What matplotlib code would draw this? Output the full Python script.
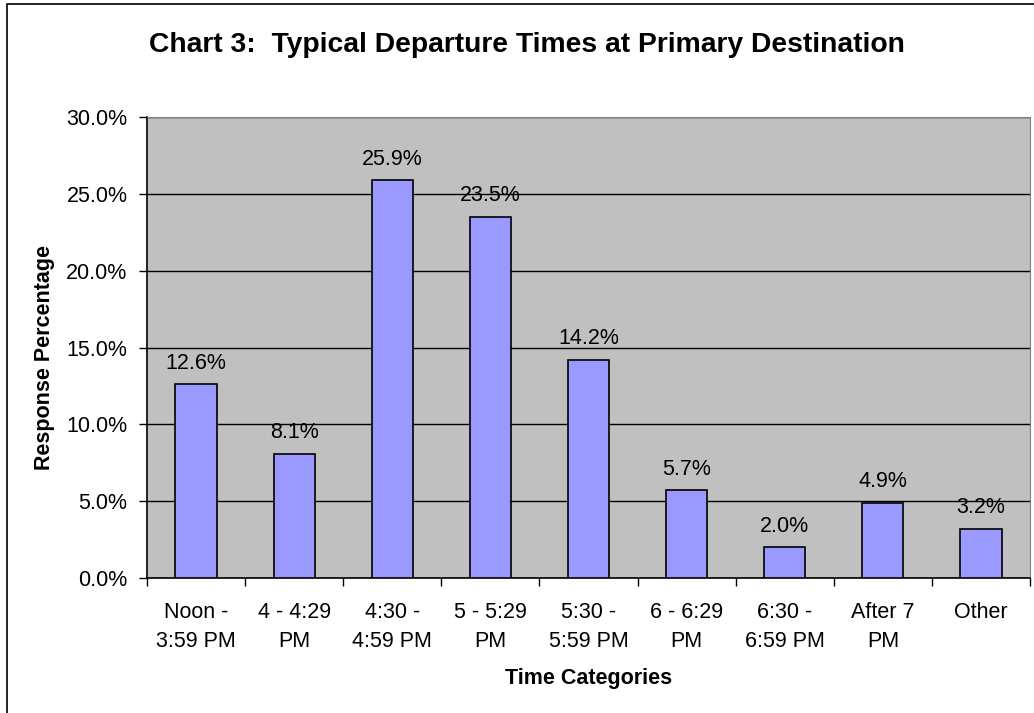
import matplotlib.pyplot as plt
from matplotlib.patches import Rectangle
from matplotlib.ticker import FuncFormatter, MultipleLocator

categories = ["Noon -\n3:59 PM", "4 - 4:29\nPM", "4:30 -\n4:59 PM", "5 - 5:29\nPM",
              "5:30 -\n5:59 PM", "6 - 6:29\nPM", "6:30 -\n6:59 PM", "After 7\nPM", "Other"]
values = [12.6, 8.1, 25.9, 23.5, 14.2, 5.7, 2.0, 4.9, 3.2]


def main():
    plt.rcParams['font.family'] = ['Liberation Sans', 'DejaVu Sans']
    fig = plt.figure(figsize=(10.34, 7.13), dpi=100)
    ax = fig.add_axes([147 / 1034, 1 - 578 / 713, 883 / 1034, 461 / 713])

    # outer chart frame (cut off at right and bottom as in the source)
    fig.patches.append(Rectangle((7 / 1034, -0.1), 1.2, 1.1 - 4 / 713, transform=fig.transFigure,
                                 fill=False, edgecolor='black', linewidth=1.2))

    ax.set_facecolor('#C0C0C0')
    xs = range(len(values))
    ax.bar(xs, values, width=0.42, color='#9999FF', edgecolor='black', linewidth=1.2, zorder=3)
    for i, v in enumerate(values):
        ax.annotate(f"{v:.1f}%", (i, v), textcoords="offset points", xytext=(0, 7.5),
                    ha='center', va='bottom', fontsize=15.5, zorder=4)

    ax.set_xlim(-0.5, len(values) - 0.5)
    ax.set_ylim(0, 30)
    ax.yaxis.set_major_locator(MultipleLocator(5))
    ax.yaxis.set_major_formatter(FuncFormatter(lambda v, p: f"{v:.1f}%"))
    ax.grid(axis='y', color='black', linewidth=1, zorder=1)
    ax.set_axisbelow(True)

    ax.set_xticks([i + 0.5 for i in range(-1, len(values))])
    ax.set_xticklabels([])
    ax.set_xticks(list(xs), minor=True)
    ax.set_xticklabels(categories, minor=True, fontsize=15.5, linespacing=1.5)
    ax.tick_params(axis='x', which='minor', length=0, pad=17)
    ax.tick_params(axis='x', which='major', length=6, width=1, direction='out')
    ax.tick_params(axis='y', length=6, width=1, direction='out', labelsize=15.5, pad=8)

    for s in ['top', 'right']:
        ax.spines[s].set_color('#808080')
    for s in ['left', 'bottom']:
        ax.spines[s].set_color('black')
        ax.spines[s].set_linewidth(1.2)

    ax.set_xlabel('Time Categories', fontsize=15.5, fontweight='bold', labelpad=12)
    ax.set_ylabel('Response Percentage', fontsize=15.5, fontweight='bold')
    ax.yaxis.set_label_coords(-0.104, 0.479)
    fig.text(527 / 1034, 1 - 45 / 713, 'Chart 3:  Typical Departure Times at Primary Destination',
             ha='center', va='center', fontsize=20.3, fontweight='bold')

    fig.savefig('out.png', dpi=100)


if __name__ == "__main__":
    main()
